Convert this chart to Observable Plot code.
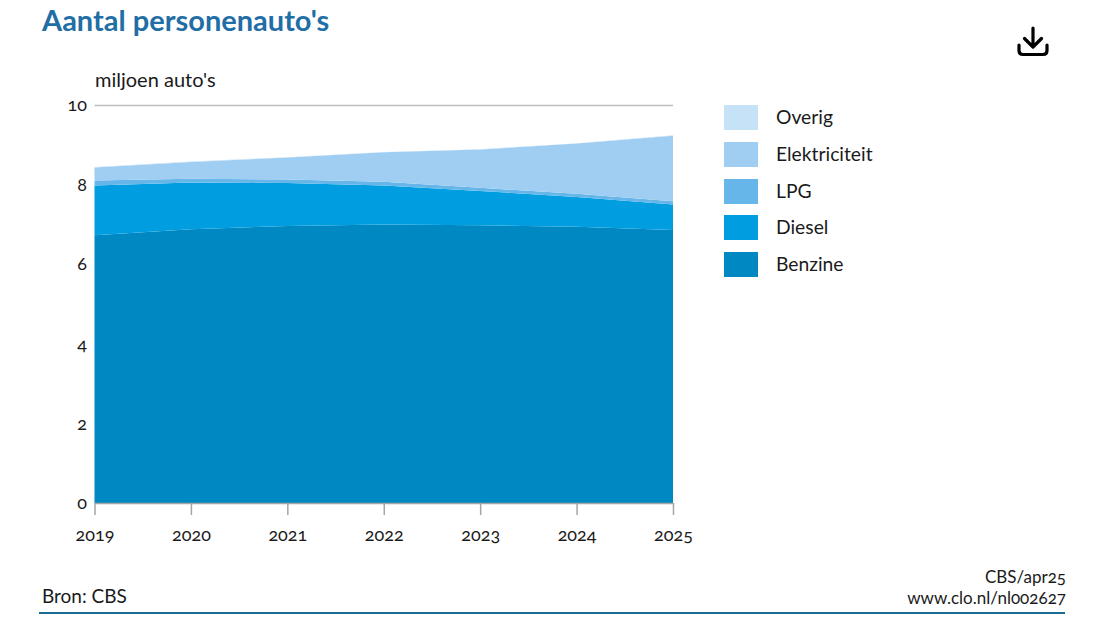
<!DOCTYPE html>
<html><head><meta charset="utf-8">
<script src="https://cdn.jsdelivr.net/npm/d3@7"></script>
<script src="https://cdn.jsdelivr.net/npm/@observablehq/plot@0.6"></script>
<style>
html,body{margin:0;padding:0;background:#fff;}
body{width:1116px;height:627px;position:relative;overflow:hidden;font-family:Lato,"Open Sans",sans-serif;color:#1a1a1a;font-feature-settings:"onum" 1;}
.t{position:absolute;white-space:nowrap;}
#plot{position:absolute;left:0;top:0;}
#plot svg{font-feature-settings:"onum" 1;}
.sw{position:absolute;left:724px;width:34px;height:25px;}
.lb{position:absolute;left:776px;font-size:19.300px;line-height:25px;}
</style></head>
<body>
<div id="plot"></div>
<div class="t" style="left:42px;top:3px;font-size:29px;font-weight:700;color:#1f6ea6;line-height:34px;">Aantal personenauto's</div>
<div class="t" style="left:95px;top:67px;font-size:20px;line-height:24px;">miljoen auto's</div>
<svg class="t" style="left:1016px;top:26px" width="34" height="32" viewBox="0 0 34 32" fill="none" stroke="#000" stroke-width="3.2" stroke-linecap="round" stroke-linejoin="round"><path d="M17 2V20M8.5 12.5L17 21L25.500 12.500M3 19V24.500Q3 28.500 7 28.500H27Q31 28.500 31 24.500V19"/></svg>
<div id="legend"></div>
<div class="t" style="left:42px;top:584px;font-size:19px;line-height:24px;">Bron: CBS</div>
<div class="t" style="right:50px;top:566px;font-size:17px;line-height:21px;text-align:right;">CBS/apr25<br>www.clo.nl/nl002627</div>
<div class="t" style="left:39px;top:612px;width:1026px;height:2px;background:#1a6a96;"></div>
<script>
const years = [2019, 2020, 2021, 2022, 2023, 2024, 2025];
const benzine = [6.73, 6.88, 6.96, 7.00, 6.98, 6.94, 6.86];
const diesel = [1.25, 1.17, 1.08, 0.98, 0.86, 0.75, 0.64];
const lpg = [0.12, 0.10, 0.09, 0.09, 0.08, 0.08, 0.08];
const elektriciteit = [0.33, 0.42, 0.55, 0.74, 0.96, 1.26, 1.65];
const overig = [0.01, 0.01, 0.01, 0.01, 0.01, 0.01, 0.01];
const names = ["Benzine", "Diesel", "LPG", "Elektriciteit", "Overig"];
const colors = ["#0088c2", "#009ee0", "#66b6ea", "#a0cdf2", "#c5e2f7"];
const series = [benzine, diesel, lpg, elektriciteit, overig];
const yTicks = [0, 2, 4, 6, 8, 10];
const rows = names.flatMap((name, i) => years.map((year, j) => ({year, name, value: series[i][j]})));

const chart = Plot.plot({
  width: 1116, height: 627,
  marginLeft: 94.5, marginRight: 443, marginTop: 105, marginBottom: 124,
  style: {fontFamily: "Lato, 'Open Sans', sans-serif", background: "transparent", color: "#1a1a1a"},
  x: {domain: [2019, 2025]},
  y: {domain: [0, 10]},
  color: {domain: names, range: colors},
  marks: [
    Plot.ruleY([10], {stroke: "#bdbdbd", strokeWidth: 1.5}),
    Plot.areaY(rows, {x: "year", y: "value", z: "name", fill: "name", order: names}),
    Plot.ruleY([0], {stroke: "#a5a5a5", strokeWidth: 1.5}),
    Plot.axisX({ticks: years, tickFormat: d => String(d), tickSize: 12, tickPadding: 13, fontSize: 18, stroke: "#a5a5a5", strokeWidth: 1.5, label: null}),
    Plot.axisY({ticks: yTicks, tickSize: 0, tickPadding: 8, fontSize: 18, label: null})
  ]
});
document.getElementById("plot").appendChild(chart);

const legend = document.getElementById("legend");
[...names].reverse().forEach((name, i) => {
  const top = 105 + i * 36.8;
  const s = document.createElement("div");
  s.className = "sw"; s.style.top = top + "px"; s.style.background = colors[names.length - 1 - i];
  const l = document.createElement("div");
  l.className = "lb"; l.style.top = (top - 1) + "px"; l.textContent = name;
  legend.append(s, l);
});
</script>
</body></html>
